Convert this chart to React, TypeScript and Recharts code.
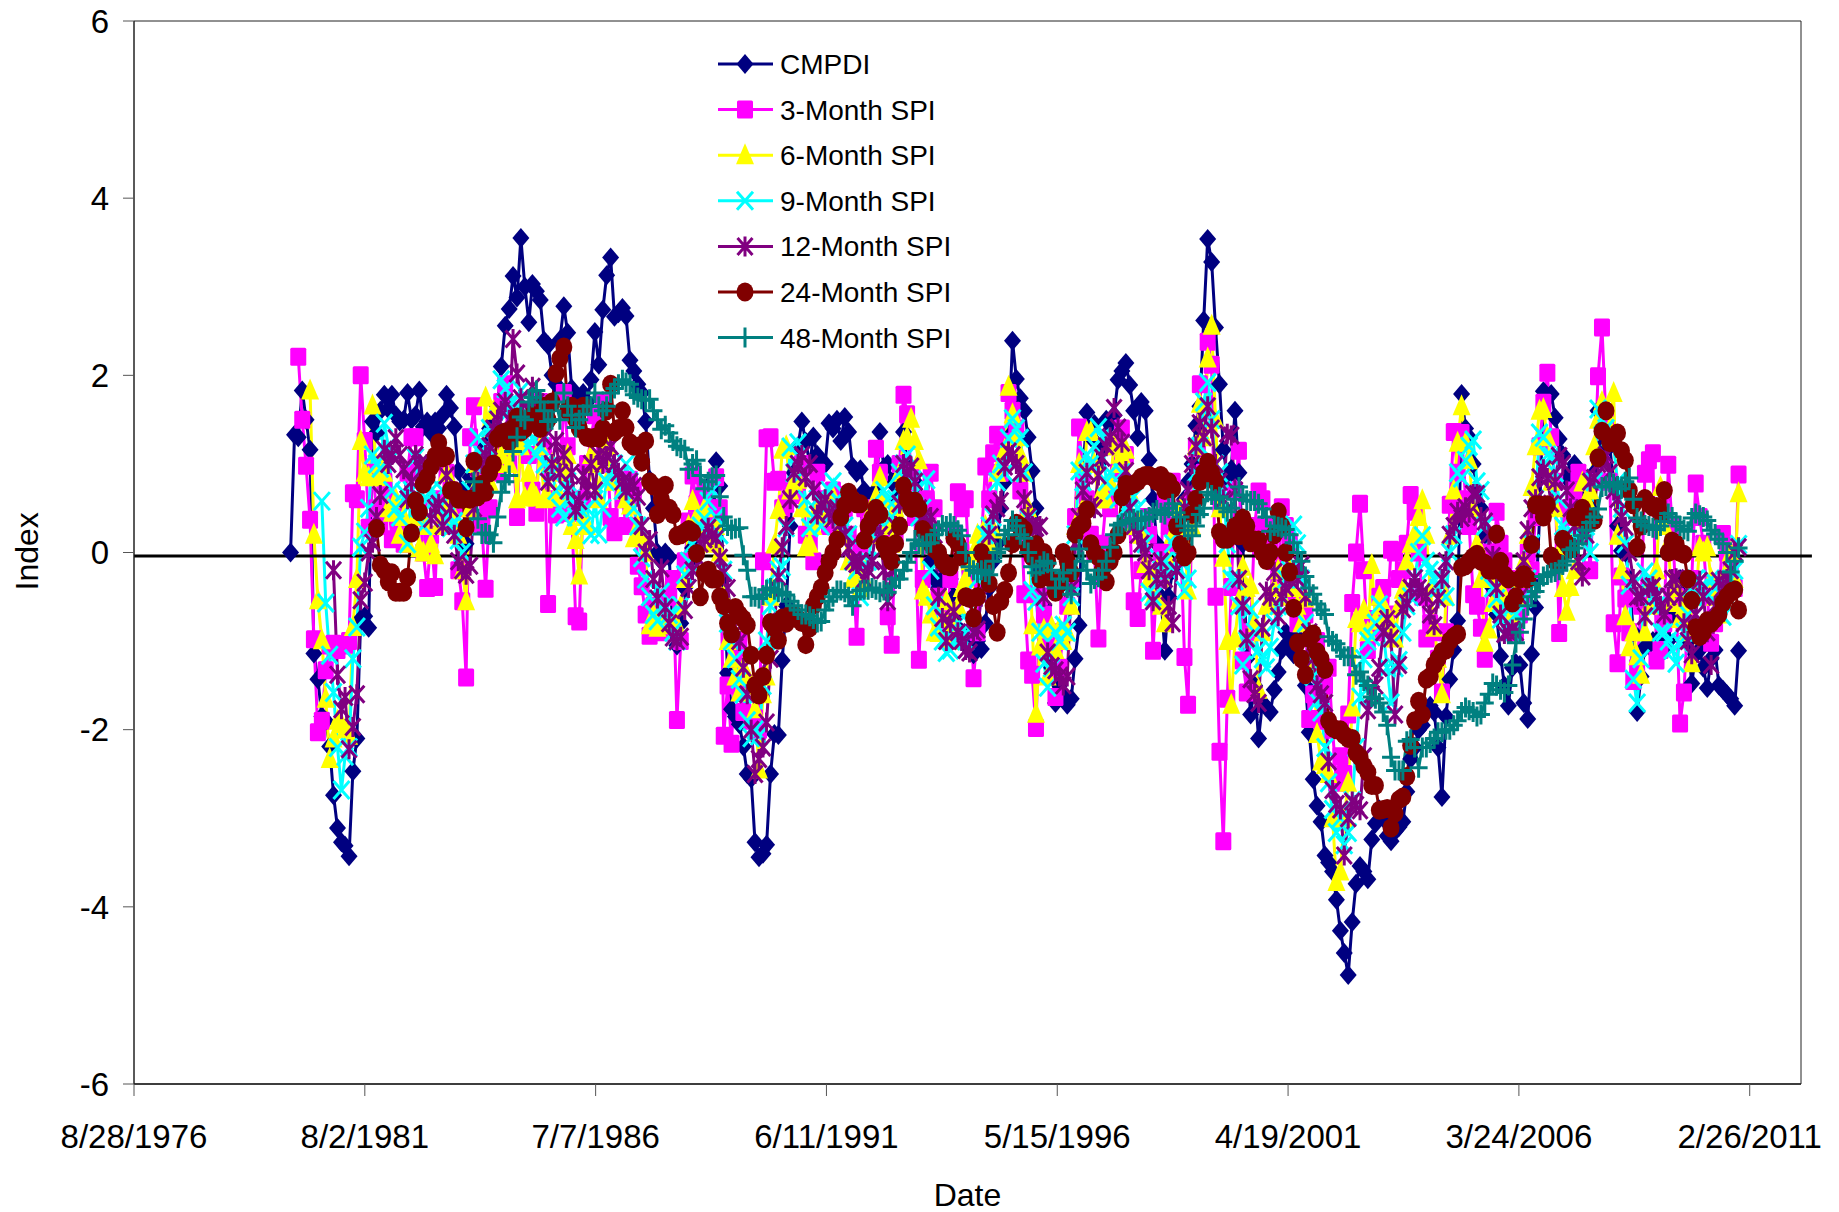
import React from 'react';
import { LineChart, Line, XAxis, YAxis, ReferenceLine, ReferenceArea, Legend } from 'recharts';

const years = [1980,1981,1982,1983,1984,1985,1986,1987,1988,1989,1990,1991,1992,1993,1994,1995,1996,1997,1998,1999,2000,2001,2002,2003,2004,2005,2006,2007,2008,2009,2010];
const tickDays = [0,1800,3600,5400,7200,9000,10800,12600];
const tickLabels = ['8/28/1976','8/2/1981','7/7/1986','6/11/1991','5/15/1996','4/19/2001','3/24/2006','2/26/2011'];
const yTicks = [-6,-4,-2,0,2,4,6];
const N: null = null;

const cmpdi = [
0,1.33,1.30,1.83,1.5,1.16,-1.14,-1.43,-1.85,-1.9,-2.19,-2.74,
-3.11,-3.27,-3.31,-3.43,-2.47,-2.1,-0.75,-0.72,-0.85,1.48,1.35,1.6,
1.78,1.62,1.78,1.55,1.48,1.5,1.8,1.5,1.55,1.83,1.42,1.48,
1.35,1.48,1.4,1.55,1.78,1.63,1.42,0.92,0.7,0.1,0.85,0.75,
0.9,1.0,1.2,1.4,1.45,1.65,2.1,2.56,2.75,3.12,2.88,3.55,
3.0,2.6,3.03,2.95,2.85,2.39,2.34,2.0,1.9,2.4,2.78,2.48,
1.85,1.75,1.7,1.8,1.7,1.95,2.49,2.12,2.74,3.13,3.33,2.66,
2.7,2.76,2.67,2.17,2.05,1.9,1.8,1.48,0.82,0.5,0.0,-0.1,
0,-0.05,-0.9,-1.05,-0.8,-0.4,-0.1,0.05,0.2,0.4,0.5,0.6,
0.8,1.03,0.75,-0.3,-1.36,-1.77,-1.85,-1.94,-2.19,-2.5,-2.55,-3.27,
-3.44,-3.4,-3.3,-2.5,-2.05,-2.06,-1.22,-0.6,0.3,0.9,1.2,1.48,
1.25,1.0,1.31,1.1,0.95,1.0,1.46,1.4,1.5,1.26,1.53,1.36,
0.97,0.9,0.94,0.7,0.6,0.5,0.7,1.36,0.95,1.0,0.8,0.6,
0.9,1.36,1.0,0.85,0.8,0.6,0.5,0.2,-0.1,-0.3,-0.4,-0.3,
-0.2,-0.3,-0.5,-0.7,-0.9,-1.0,-1.1,-1.15,-1.0,-1.09,-0.8,-0.4,
-0.1,0.1,0.5,0.8,1.3,2.39,1.96,1.74,1.6,1.3,0.92,0.5,
-0.2,-0.6,-1.0,-1.3,-1.7,-1.5,-1.6,-1.72,-1.65,-1.2,-0.82,0.9,
1.58,1.3,1.45,1.0,1.2,1.5,1.45,1.55,1.95,2.05,2.14,1.89,
1.6,1.3,1.7,1.6,1.04,0.6,0.1,-0.5,-1.11,-0.5,-0.2,0.1,
0.4,0.6,0.8,1.0,1.43,1.65,2.62,3.54,3.28,2.54,1.9,1.16,
0.85,0.94,1.6,0.9,0.1,-1.2,-1.83,-1.5,-2.1,-1.7,-1.75,-1.8,
-1.55,-1.35,-1.1,-0.9,-1.0,-1.15,-0.95,-1.2,-1.5,-2.03,-2.56,-2.86,
-3.04,-3.42,-3.5,-3.6,-3.92,-4.27,-4.52,-4.77,-4.17,-3.74,-3.54,-3.6,
-3.69,-3.24,-3.06,-2.9,-3.0,-3.2,-3.26,-3.15,-3.1,-3.04,-2.7,-2.33,
-2.2,-2.0,-1.95,-1.8,-1.73,-1.8,-2.2,-2.76,-1.85,-1.43,-1.1,-0.77,
1.79,1.4,1.3,1.0,0.7,0.5,0.2,-0.1,-0.4,-0.7,-1.17,-1.5,
-1.73,-1.3,-1.25,-1.27,-1.7,-1.88,-1.15,-0.62,0.4,1.82,1.75,1.79,
1.52,1.28,1.1,0.84,0.9,1.0,0.85,0.6,0.8,0.5,0.9,1.6,
1.2,1.4,1.2,0.8,0.3,0.02,0,-0.3,-0.9,-1.8,-1.4,-1.07,
-1.05,-1.0,-1.0,-1.07,-1.1,-1.0,-0.7,-0.4,-0.3,-0.5,-1.0,-1.48,
-1.15,-1.1,-1.3,-1.53,-1.2,-1.1,-1.5,-1.55,-1.6,-1.65,-1.73,-1.11,
];

const spi3 = [
N,N,2.21,1.5,0.98,0.37,-0.98,-2.03,-1.9,-1.33,-1.05,-1.03,
-1.1,-1.05,-1.04,-1.0,0.67,0.6,2.0,1.26,0.28,0.9,0.5,0.3,
0.8,0.6,0.15,0.5,0.3,0.1,0.9,1.3,1.3,0.5,0.0,-0.4,
0.2,-0.39,0.6,0.3,0.9,0.7,0.5,-0.2,-0.55,-1.41,1.3,1.65,
0.95,0.3,-0.41,0.5,0.95,0.9,1.7,1.9,1.0,1.2,0.4,1.4,
1.5,1.1,0.7,0.45,1.7,1.2,-0.58,0.6,0.43,0.45,1.8,1.2,
0.45,-0.72,-0.78,0.6,1.0,1.3,1.55,1.0,1.7,1.2,0.4,0.23,
0.8,0.6,0.3,0.82,0.7,-0.15,-0.38,-0.7,-0.94,-0.6,-0.75,-0.9,
-0.8,-0.5,-0.3,-1.89,-1.0,-0.1,0.35,0.87,0.55,0.6,0.7,0.5,
0.4,0.85,0.5,-2.07,-1.5,-2.16,-1.2,-1.0,-1.8,-1.5,-1.9,-1.87,
-2.0,-0.1,1.29,1.3,0.8,0.82,0.5,0.55,0.7,0.65,0.8,1.0,
0.2,0.1,-0.1,0.9,0.5,0.6,0.3,0.7,0.65,0.3,0.5,0.2,
-0.1,-0.95,0.1,0.5,0.3,0.4,1.17,0.9,0.2,-0.72,-1.04,0.2,
1.0,1.78,1.56,0.9,0.4,-1.21,-0.3,0.6,0.9,0.5,-0.5,-0.6,
-0.9,-0.3,0.2,0.68,0.5,0.6,-0.3,-1.42,-0.9,0.1,0.97,0.6,
1.12,1.33,0.9,1.25,1.8,1.6,1.4,0.7,-0.47,-1.22,-1.38,-1.98,
-0.5,-0.7,-1.0,-0.9,-1.63,-1.3,-0.9,-0.6,-0.3,0.4,1.41,0.87,
0.6,0.2,0.0,-0.97,0.1,0.6,0.5,1.2,0.9,1.4,1.1,0.3,
-0.55,-0.74,-0.2,0.4,0.2,-1.11,-0.3,0.0,0.6,0.3,0.8,0.1,
0.2,-1.18,-1.72,0.6,1.18,1.9,0.9,2.38,2.12,-0.5,-2.25,-3.26,
-1.65,-0.39,0.7,1.15,-1.22,-1.58,-0.9,0.3,0.69,0.6,0.31,0.1,
-0.1,-0.3,0.51,0.3,0.1,-0.5,-0.8,-0.6,-0.7,-1.88,-1.6,-1.0,
-1.9,-1.5,-1.3,-2.0,-2.6,-2.3,-2.5,-1.83,-0.57,0.0,0.55,-0.2,
-1.1,-0.75,-0.9,-0.5,-0.4,-0.7,0.03,0.0,-0.3,-0.2,0.1,0.65,
0.46,0.0,-0.5,-0.97,-0.8,-0.9,-1.2,-1.58,-0.9,0.54,1.36,0.9,
1.35,0.6,0.3,-0.47,-0.6,-0.85,-1.2,0.0,-0.3,0.46,0.1,-0.1,
-0.4,-0.3,-0.9,-0.7,-0.5,0.0,-0.2,0.4,1.2,1.69,2.03,1.3,
0.8,-0.91,0.1,0.5,0.4,0.7,0.9,0.5,0.4,-0.2,0.8,1.99,
2.54,1.5,0.8,-0.8,-1.25,-0.27,-0.52,-0.9,-1.45,-1.3,-0.6,0.89,
1.04,1.12,-1.22,-1.1,-0.8,0.99,0.3,-0.5,-1.93,-1.58,-0.7,-0.3,
0.78,0.4,0.1,-0.5,-1.02,-0.8,-0.5,0.21,0.0,-0.2,-0.4,0.88,
];

const spi6 = [
N,N,N,N,N,1.83,0.2,-0.54,-0.99,-1.65,-2.33,-2.1,
-1.9,-1.94,-2.0,-2.07,-0.84,-0.3,1.26,0.9,0.85,1.66,0.85,1.0,
0.9,0.5,0.45,0.6,0.2,0.4,0.1,0.6,0.4,0.05,0.0,0.3,
0.1,-0.03,0.3,0.5,0.9,0.6,0.4,0.2,-0.2,-0.55,0.5,1.0,
0.8,1.02,1.75,0.8,1.6,1.0,1.1,1.3,1.0,1.2,0.6,1.2,
0.62,0.9,0.7,0.62,1.2,0.6,0.62,1.0,0.65,0.62,0.9,1.1,
0.3,0.14,-0.26,0.4,0.3,1.1,1.0,0.6,1.4,1.2,0.9,0.8,
0.8,0.7,0.6,0.53,0.16,0.3,0.2,0.0,-0.82,-0.7,-0.85,-0.8,
-0.75,-0.8,-0.82,-0.82,-0.6,-0.3,0.3,0.58,0.4,0.23,0.5,0.2,
0.1,0.3,0.0,-0.5,-1.0,-1.2,-1.4,-1.58,-1.3,-1.4,-1.5,-1.77,
-2.45,-1.6,-1.4,-0.5,0.09,0.48,1.16,1.2,0.7,0.8,0.82,0.5,
0.06,0.1,0.3,0.5,0.4,0.6,0.5,0.63,0.5,0.3,0.2,-0.1,
-0.3,-0.2,-0.4,-0.3,0.2,0.5,0.63,0.85,0.6,0.3,0.1,0.5,
0.9,1.26,1.3,1.51,1.26,1.04,-0.43,-0.5,-0.7,-0.9,-0.91,-0.75,
-0.55,-1.0,-0.8,-0.6,-0.4,-0.3,-0.1,0.0,0.2,0.15,0.3,0.1,
0.26,0.9,1.02,1.16,1.87,1.56,1.3,1.1,0.9,0.5,-0.82,-1.82,
-1.06,-0.87,-1.4,-0.84,-1.1,-0.85,-1.0,-0.9,-0.6,0.3,1.0,0.5,
1.36,1.36,1.0,0.6,0.67,0.6,0.8,1.2,1.0,1.1,1.16,0.7,
0.3,0.4,0.2,-0.13,-0.3,-0.5,-0.2,-0.6,-0.8,-0.1,0.2,0.3,
0.5,0.1,-0.43,0.3,1.2,1.68,1.3,2.19,2.56,1.5,0.5,-0.06,
-1.0,-1.72,-0.97,-0.54,-0.16,-0.4,-0.37,-0.8,-1.55,-0.9,-0.6,-0.57,
-0.4,-0.2,-0.5,-0.3,-0.2,-0.4,-0.6,-0.8,-0.52,-0.9,-1.2,-2.05,
-2.36,-2.4,-2.5,-3.0,-3.72,-3.6,-3.0,-2.6,-1.75,-0.75,-0.8,-0.65,
-0.9,-0.14,-0.77,-0.5,-0.6,-0.7,-0.8,-0.97,-0.6,-0.42,-0.1,0.1,
0.21,0.4,0.59,0.2,-0.4,-0.85,-1.2,-1.6,-0.5,0.19,0.7,1.24,
1.65,1.24,1.04,0.5,0.1,-0.3,-1.02,-0.87,-0.57,-0.3,-0.4,-0.5,
-0.6,-0.7,-0.5,-0.3,-0.1,0.2,0.74,1.2,1.6,1.62,1.3,0.8,
0.5,0.0,-0.4,-0.67,-0.39,-0.2,0.3,0.79,0.6,0.7,1.2,1.5,
1.7,1.6,1.4,1.8,0.19,-0.2,-0.72,-1.07,-0.9,-1.17,-1.38,-0.9,
-0.6,-0.3,-0.2,0.74,0.3,0.1,-0.57,-0.4,-0.75,-0.6,-0.9,-1.25,
-0.5,0.06,0.0,0.06,-0.3,-0.5,-0.7,-0.4,-0.2,0.0,-0.3,0.67,
];

const spi9 = [
N,N,N,N,N,N,N,N,0.58,-0.57,-1.16,-1.58,
-2.2,-2.68,-2.3,-2.2,-1.2,-0.84,0.06,0.23,0.5,1.1,1.0,0.95,
1.46,1.2,0.7,0.5,0.4,0.68,0.1,0.7,1.07,0.5,0.3,0.6,
0.7,0.6,0.5,0.7,0.4,0.28,0.35,0.14,0.0,0.3,0.7,1.0,
1.3,1.1,1.2,1.4,1.3,1.5,1.95,1.85,1.6,1.7,1.5,1.83,
1.4,1.2,1.29,1.1,1.2,1.0,0.97,0.9,0.7,0.5,0.4,0.8,
0.6,0.4,0.5,0.3,0.5,0.2,0.6,0.21,0.5,0.8,0.9,1.0,
0.9,0.7,1.0,0.8,0.5,0.3,-0.06,-0.3,-0.5,-0.7,-0.77,-0.45,
-0.6,-0.7,-0.9,-1.0,-0.6,-0.25,-0.1,0.1,0.2,0.3,0.38,0.58,
0.7,0.4,0.2,-0.2,-0.8,-1.0,-1.2,-1.43,-1.6,-1.9,-2.09,-2.0,
-2.07,-1.5,-1.0,-0.6,-0.4,-0.2,-0.16,0.28,1.19,0.9,1.24,0.9,
0.6,0.28,0.4,0.6,0.3,0.5,0.7,0.8,0.6,0.4,0.3,0.2,
-0.1,-0.2,-0.5,-0.3,-0.1,0.2,0.4,0.5,0.7,0.6,0.4,0.6,
0.9,1.0,1.1,0.8,0.7,0.4,0.5,0.82,-0.2,-0.6,-0.84,-1.0,
-1.13,-1.1,-1.0,-0.8,-0.96,-1.0,-0.8,-0.5,-0.3,-0.1,0.2,0.3,
0.4,0.8,1.0,0.9,1.29,1.51,1.4,1.29,0.9,0.38,-0.43,-0.55,
-0.9,-1.25,-1.52,-1.3,-0.9,-1.0,-0.82,-0.9,-0.5,0.2,0.92,0.8,
1.1,1.0,1.2,1.41,1.3,0.8,0.9,0.7,0.6,0.9,0.5,0.4,
0.63,0.5,0.3,0.1,-0.45,-0.5,-0.3,-0.2,-0.1,-0.2,0.1,0.2,
-0.1,-0.43,-0.3,0.5,0.9,1.2,1.7,1.92,1.5,1.0,0.9,0.7,
0.1,-0.3,-0.32,-0.6,-1.27,-1.0,-0.64,-0.9,-1.1,-1.2,-1.3,-1.07,
-0.8,-0.6,-0.5,-0.3,-0.2,0.31,0.1,-0.3,-0.8,-1.2,-1.4,-1.68,
-1.8,-2.2,-2.6,-2.9,-3.16,-3.0,-3.3,-3.16,-2.8,-2.2,-1.63,-1.2,
-1.0,-0.95,-0.8,-0.59,-0.9,-1.3,-1.7,-1.3,-1.22,-0.9,-0.6,-0.5,
-0.29,0.0,0.19,-0.1,-0.2,-0.3,-0.4,-0.3,-0.5,0.0,0.2,0.9,
0.84,1.04,1.2,1.27,0.8,0.7,0.3,-0.2,-0.4,-0.52,-0.75,-0.6,
-0.8,-0.9,-0.7,-0.5,-0.52,-0.3,0.1,0.6,1.35,1.3,1.1,1.09,
0.9,0.6,0.3,0.2,0.1,0.2,0.24,0.4,0.3,0.0,0.8,1.62,
1.5,1.4,1.3,1.2,0.8,0.5,0.1,-0.37,-1.43,-1.7,-1.2,-0.22,
-0.3,-0.5,-0.6,-0.9,-0.9,-1.0,-1.1,-1.25,-1.02,-0.9,-0.7,-0.4,
-0.3,-0.4,-0.42,-0.5,-0.3,-0.4,-0.6,-0.72,-0.5,-0.3,-0.2,0.09,
];

const spi12 = [
N,N,N,N,N,N,N,N,N,N,N,-0.2,
-1.38,-1.77,-1.63,-2.22,-1.97,-1.6,-0.54,-0.34,0.0,0.11,0.4,0.65,
1.16,1.0,1.1,1.29,1.1,0.94,0.6,0.8,1.1,1.0,0.9,1.0,
0.38,0.5,0.55,0.3,0.87,0.5,0.2,-0.1,-0.2,-0.25,-0.15,0.5,
0.8,1.0,1.1,1.2,1.4,1.5,1.6,1.7,1.5,2.41,2.02,1.74,
1.5,1.6,1.87,1.7,1.5,1.3,0.8,1.0,1.26,0.9,1.1,0.7,
0.9,0.48,0.58,0.87,0.7,1.0,0.7,1.1,1.0,1.09,1.2,1.0,
0.9,0.8,0.7,0.8,0.75,0.63,0.3,0.0,0.14,-0.3,-0.52,-0.18,
-0.62,-0.8,-0.96,-1.0,-0.95,-0.65,-0.4,-0.2,-0.05,0.1,0.15,0.28,
0.2,0.16,-0.06,-0.23,-0.4,-0.7,-0.9,-1.0,-1.3,-1.6,-2.0,-2.5,
-2.33,-2.2,-1.92,-1.2,-0.8,-0.28,0.06,0.3,0.6,0.9,1.0,1.1,
0.85,1.0,0.7,0.43,0.53,0.6,0.45,0.38,0.5,0.33,0.2,0.05,
-0.1,-0.13,-0.1,-0.3,-0.2,-0.1,0.3,0.2,-0.2,-0.55,-0.2,0.3,
0.55,1.0,0.9,0.97,0.8,0.5,0.4,0.3,0.4,0.2,-0.5,-0.74,
-1.0,-0.8,-0.67,-0.9,-1.0,-1.1,-1.13,-0.9,-0.87,-0.5,-0.1,0.2,
0.43,0.5,0.58,0.97,1.14,1.1,1.0,0.9,0.6,0.4,0.3,0.28,
0.3,-0.5,-1.13,-1.28,-1.33,-1.4,-1.5,-1.4,-0.4,0.1,0.4,0.7,
0.9,0.53,0.5,0.87,1.07,1.2,1.3,1.63,1.41,1.24,0.92,0.5,
0.3,0.2,0.1,0.0,-0.2,-0.55,-0.3,-0.1,-0.3,-0.6,-0.8,-0.2,
0.0,0.5,0.7,1.0,1.2,1.46,1.3,1.65,1.4,1.0,0.8,0.6,
1.34,1.32,0.7,-0.3,-0.6,-0.97,-1.43,-1.6,-1.7,-0.85,-0.44,-0.5,
-0.22,-0.72,-0.5,-0.4,-0.3,-0.2,-0.3,-0.14,-0.5,-0.9,-1.2,-1.5,
-1.6,-1.7,-2.36,-2.68,-2.84,-2.9,-3.42,-3.0,-2.81,-2.85,-2.91,-2.3,
-1.78,-1.6,-1.5,-1.3,-0.9,-0.75,-0.97,-1.83,-1.27,-0.64,-0.57,-0.4,
-0.29,-0.4,-0.45,-0.5,-0.7,-0.82,-0.52,-0.3,-0.1,0.2,0.3,0.46,
0.39,0.51,0.45,0.66,0.66,0.4,0.35,0.2,-0.04,-0.4,-0.7,-0.92,
-0.9,-0.87,-0.9,-0.5,-0.1,0.25,0.5,0.6,0.85,0.94,0.84,0.55,
0.8,1.09,1.0,0.7,0.5,0.3,-0.1,-0.27,0.2,0.8,0.84,1.0,
1.04,1.1,0.9,0.7,0.6,0.4,0.29,0.0,-0.3,-0.5,-0.49,-0.72,
-0.4,-0.38,-0.5,-0.6,-0.7,-0.5,-0.3,-0.29,-0.5,-0.8,-1.0,-1.15,
-0.7,-0.32,-0.5,-0.9,-1.27,-0.6,-0.32,-0.4,-0.3,-0.2,0.0,0.06,
];

const spi24 = [
N,N,N,N,N,N,N,N,N,N,N,N,
N,N,N,N,N,N,N,N,N,N,0.27,-0.14,
-0.2,-0.33,-0.23,-0.45,-0.45,-0.45,-0.28,0.22,0.58,0.46,0.77,0.85,
0.97,1.09,1.24,1.07,1.09,0.7,0.7,0.6,0.6,0.28,0.6,1.03,
0.63,0.77,0.68,0.9,1.0,1.29,1.34,1.36,1.25,1.4,1.53,1.36,
1.4,1.5,1.55,1.5,1.4,1.65,1.5,1.7,2.02,2.19,2.32,1.6,
1.65,1.5,1.4,1.65,1.3,1.29,1.3,1.29,1.4,1.6,1.9,1.36,
1.4,1.6,1.41,1.24,1.2,1.2,1.02,1.26,0.8,0.75,0.43,0.6,
0.76,0.5,0.43,0.19,0.2,0.23,0.26,0.23,-0.01,-0.5,-0.23,-0.2,
-0.3,-0.3,-0.5,-0.6,-0.8,-0.92,-0.62,-0.7,-0.75,-0.82,-1.16,-1.5,
-1.61,-1.4,-1.16,-0.79,-0.85,-0.99,-0.74,-0.8,-0.7,-0.7,-0.75,-0.79,
-1.04,-0.85,-0.6,-0.5,-0.4,-0.23,-0.1,0.0,0.14,0.4,0.53,0.68,
0.6,0.55,0.55,0.14,0.3,0.38,0.5,0.43,0.09,0.0,-0.1,0.1,
0.3,0.75,0.6,0.5,0.58,0.5,0.26,0.2,0.1,0.04,0.0,-0.1,
-0.15,-0.16,0.16,0.1,-0.05,-0.5,-0.52,-0.74,-0.5,0.0,-0.1,-0.35,
-0.6,-0.9,-0.55,-0.43,-0.23,0.1,0.33,0.3,0.26,0.05,-0.05,0.09,
-0.3,0.0,-0.1,-0.3,-0.45,-0.35,0.0,-0.1,-0.23,0.21,0.3,0.33,
0.48,0.1,0.0,-0.05,-0.2,-0.33,-0.1,0.0,0.2,0.63,0.77,0.75,
0.77,0.8,0.85,0.87,0.87,0.85,0.8,0.87,0.7,0.8,0.72,0.3,
0.09,-0.05,0.0,0.43,0.6,0.8,0.9,1.02,0.9,0.8,0.23,0.15,
0.15,0.19,0.3,0.19,0.39,0.3,0.11,0.14,0.14,0.0,-0.09,0.0,
0.2,0.46,0.3,0.0,-0.22,-0.63,-1.02,-1.2,-1.38,-0.97,-0.92,-1.12,
-1.2,-1.32,-1.9,-1.98,-2.0,-2.0,-2.06,-2.1,-2.1,-2.26,-2.31,-2.41,
-2.48,-2.63,-2.63,-2.91,-2.9,-2.89,-3.11,-2.94,-2.79,-2.76,-2.53,-2.18,
-1.9,-1.68,-1.83,-1.43,-1.4,-1.27,-1.2,-1.12,-1.1,-1.0,-0.95,-0.92,
-0.17,-0.15,-0.1,-0.05,-0.02,-0.1,-0.12,-0.2,-0.2,0.21,-0.1,-0.25,
-0.3,-0.57,-0.5,-0.3,-0.25,-0.3,0.09,0.54,0.54,0.4,0.54,-0.04,
-0.1,-0.12,0.15,0.1,0.04,0.4,0.4,0.5,0.36,0.4,0.36,1.07,
1.37,1.6,1.24,1.24,1.35,1.15,1.04,0.7,0.54,0.06,0.3,0.61,
0.55,0.51,0.52,0.44,0.7,0.0,0.13,0.1,0.0,-0.02,-0.3,-0.54,
-0.85,-0.95,-0.9,-0.77,-0.8,-0.75,-0.7,-0.57,-0.5,-0.45,-0.42,-0.65,
];

const spi48 = [
N,N,N,N,N,N,N,N,N,N,N,N,
N,N,N,N,N,N,N,N,N,N,N,N,
N,N,N,N,N,N,N,N,N,N,N,N,
N,N,N,N,N,N,N,N,N,N,N,0.8,
0.38,0.21,0.22,0.2,0.11,0.4,0.68,0.8,0.87,1.14,1.3,1.53,
1.5,1.7,1.75,1.83,1.7,1.6,1.48,1.5,1.7,1.5,1.8,1.65,
1.55,1.41,1.5,1.56,1.65,1.65,1.8,1.65,1.6,1.65,1.8,1.85,
1.9,1.95,1.92,1.9,1.78,1.75,1.73,1.72,1.73,1.6,1.5,1.39,
1.43,1.35,1.26,1.2,1.18,1.16,0.94,1.0,1.04,0.87,0.72,0.8,
0.85,0.87,0.63,0.4,0.3,0.26,0.27,0.28,-0.03,-0.2,-0.5,-0.5,
-0.52,-0.48,-0.42,-0.4,-0.42,-0.45,-0.45,-0.48,-0.55,-0.6,-0.65,-0.7,
-0.7,-0.72,-0.75,-0.79,-0.78,-0.65,-0.55,-0.5,-0.43,-0.43,-0.45,-0.5,
-0.6,-0.5,-0.43,-0.42,-0.42,-0.4,-0.42,-0.45,-0.43,-0.45,-0.38,-0.3,
-0.3,-0.2,-0.11,0.0,0.14,0.1,0.08,0.1,0.11,0.2,0.25,0.31,
0.3,0.33,0.3,0.25,0.19,0.0,-0.16,-0.2,-0.23,-0.2,-0.22,-0.25,
-0.1,0.0,0.04,0.2,0.25,0.36,0.3,0.2,0.16,0.0,-0.16,-0.23,
-0.15,-0.1,-0.12,-0.2,-0.4,-0.3,-0.23,-0.4,-0.47,-0.2,0.04,-0.1,
-0.2,-0.35,-0.3,-0.28,-0.2,-0.1,0.06,0.2,0.31,0.33,0.35,0.36,
0.38,0.36,0.37,0.38,0.4,0.45,0.48,0.45,0.43,0.5,0.55,0.45,
0.4,0.3,0.25,0.19,0.3,0.43,0.5,0.68,0.65,0.6,0.63,0.5,
0.46,0.5,0.6,0.74,0.65,0.59,0.58,0.58,0.55,0.49,0.4,0.24,
0.3,0.29,0.28,0.26,0.2,0.11,0.0,-0.1,-0.27,-0.4,-0.47,-0.58,
-0.65,-0.7,-0.95,-1.0,-1.03,-1.1,-1.17,-1.17,-1.18,-1.38,-1.35,-1.45,
-1.5,-1.63,-1.65,-1.7,-1.8,-1.95,-2.31,-2.46,-2.46,-2.46,-2.13,-2.11,
-2.2,-2.43,-2.2,-2.2,-2.15,-2.1,-2.03,-2.03,-2.0,-2.0,-1.95,-1.9,
-1.8,-1.75,-1.78,-1.8,-1.85,-1.83,-1.7,-1.6,-1.48,-1.5,-1.55,-1.58,
-1.5,-1.27,-1.02,-0.9,-0.75,-0.6,-0.5,-0.44,-0.35,-0.27,-0.25,-0.23,
-0.22,-0.2,-0.14,-0.1,0.03,0.05,0.1,0.19,0.25,0.34,0.4,0.49,
0.74,0.75,0.79,0.78,0.75,0.72,0.8,0.84,0.6,0.39,0.35,0.31,
0.3,0.28,0.26,0.3,0.35,0.44,0.4,0.34,0.3,0.26,0.24,0.39,
0.44,0.42,0.4,0.36,0.25,0.21,0.15,0.1,0.0,-0.22,-0.1,0.05,
];

const FONT = '"Liberation Sans", Arial, sans-serif';
const EPOCH = Date.UTC(1976, 7, 28);

const months = years.flatMap((y) => Array.from({ length: 12 }, (_, m) => (Date.UTC(y, m, 1) - EPOCH) / 864e5));
const rows = months.map((day, i) => ({
  day,
  cmpdi: cmpdi[i], spi3: spi3[i], spi6: spi6[i], spi9: spi9[i], spi12: spi12[i], spi24: spi24[i], spi48: spi48[i],
}));

type Kind = 'diamond' | 'square' | 'triangle' | 'x' | 'star' | 'circle' | 'plus';

function Mark({ kind, cx, cy, color }: { kind: Kind; cx: number; cy: number; color: string }) {
  const s = { stroke: color, strokeWidth: 3, fill: 'none' };
  switch (kind) {
    case 'diamond':
      return <path d={`M${cx},${cy - 10}L${cx + 8.5},${cy}L${cx},${cy + 10}L${cx - 8.5},${cy}Z`} fill={color} />;
    case 'square':
      return <rect x={cx - 8} y={cy - 9} width={16} height={18} rx={1.5} fill={color} />;
    case 'triangle':
      return <path d={`M${cx},${cy - 12}L${cx + 9},${cy + 9}L${cx - 9},${cy + 9}Z`} fill={color} />;
    case 'circle':
      return <ellipse cx={cx} cy={cy} rx={8.5} ry={9.5} fill={color} />;
    case 'x':
      return <path d={`M${cx - 8},${cy - 9}L${cx + 8},${cy + 9}M${cx + 8},${cy - 9}L${cx - 8},${cy + 9}`} {...s} />;
    case 'star':
      return <path d={`M${cx - 7.5},${cy - 8.5}L${cx + 7.5},${cy + 8.5}M${cx + 7.5},${cy - 8.5}L${cx - 7.5},${cy + 8.5}M${cx},${cy - 10}L${cx},${cy + 10}`} {...s} />;
    default:
      return <path d={`M${cx - 9},${cy}L${cx + 9},${cy}M${cx},${cy - 10}L${cx},${cy + 10}`} {...s} />;
  }
}

const seriesList: { key: string; name: string; color: string; kind: Kind }[] = [
  { key: 'cmpdi', name: 'CMPDI', color: '#000080', kind: 'diamond' },
  { key: 'spi3', name: '3-Month SPI', color: '#FF00FF', kind: 'square' },
  { key: 'spi6', name: '6-Month SPI', color: '#FFFF00', kind: 'triangle' },
  { key: 'spi9', name: '9-Month SPI', color: '#00FFFF', kind: 'x' },
  { key: 'spi12', name: '12-Month SPI', color: '#800080', kind: 'star' },
  { key: 'spi24', name: '24-Month SPI', color: '#800000', kind: 'circle' },
  { key: 'spi48', name: '48-Month SPI', color: '#008080', kind: 'plus' },
];

function LegendBox() {
  return (
    <svg width={360} height={320} style={{ display: 'block' }}>
      {seriesList.map((s, i) => {
        const y = 19 + i * 45.6;
        return (
          <g key={s.key}>
            <line x1={8} x2={63} y1={y} y2={y} stroke={s.color} strokeWidth={3} />
            <Mark kind={s.kind} cx={35} cy={y} color={s.color} />
            <text x={70} y={y + 10} fontFamily={FONT} fontSize={28} fill="#000">{s.name}</text>
          </g>
        );
      })}
    </svg>
  );
}

const tickText = (d: number) => tickLabels[tickDays.indexOf(d)] ?? '';

export default function App() {
  return (
    <div style={{ position: 'absolute', left: 0, top: 0, background: '#fff' }}>
      <LineChart width={1839} height={1212} data={rows} margin={{ top: 21, right: 38, bottom: 0, left: 0 }}>
        <XAxis
          dataKey="day" type="number" domain={[0, 13000]} ticks={tickDays} interval={0}
          tickFormatter={tickText} height={128} tickSize={12} tickMargin={29}
          stroke="#000" tick={{ fill: '#000', fontSize: 33, fontFamily: FONT }} axisLine={{ stroke: '#222', strokeWidth: 1.5 }}
          tickLine={{ stroke: '#555', strokeWidth: 1 }}
          label={{ value: 'Date', position: 'insideBottom', offset: 0, dy: -6, fill: '#000', fontSize: 32, fontFamily: FONT }}
        />
        <YAxis
          type="number" domain={[-6, 6]} ticks={yTicks} interval={0} width={134} tickSize={11} tickMargin={14}
          stroke="#000" tick={{ fill: '#000', fontSize: 33, fontFamily: FONT }} axisLine={{ stroke: '#222', strokeWidth: 1 }}
          tickLine={{ stroke: '#555', strokeWidth: 1 }}
          label={{ value: 'Index', angle: -90, position: 'insideLeft', offset: 0, dx: 27, dy: 38, fill: '#000', fontSize: 32, fontFamily: FONT }}
        />
        <ReferenceArea x1={0} x2={13000} y1={-6} y2={6} fill="none" stroke="#222" strokeWidth={1} />
        <Legend
          layout="vertical" align="center" verticalAlign="middle"
          content={() => <LegendBox />}
          wrapperStyle={{ left: 710, top: 45, width: 360, height: 320 }}
        />
        {seriesList.map((s) => (
          <Line
            key={s.key} dataKey={s.key} name={s.name} type="linear" stroke={s.color} strokeWidth={3}
            isAnimationActive={false} connectNulls={false}
            dot={(p: any) => (p.cy == null || p.value == null
              ? <g key={p.key ?? p.index} />
              : <Mark key={p.key ?? p.index} kind={s.kind} cx={p.cx} cy={p.cy} color={s.color} />)}
          />
        ))}
        <ReferenceLine
          segment={[{ x: 0, y: -0.04 }, { x: 13085, y: -0.04 }]}
          ifOverflow="visible" stroke="#000" strokeWidth={3}
        />
      </LineChart>
    </div>
  );
}
